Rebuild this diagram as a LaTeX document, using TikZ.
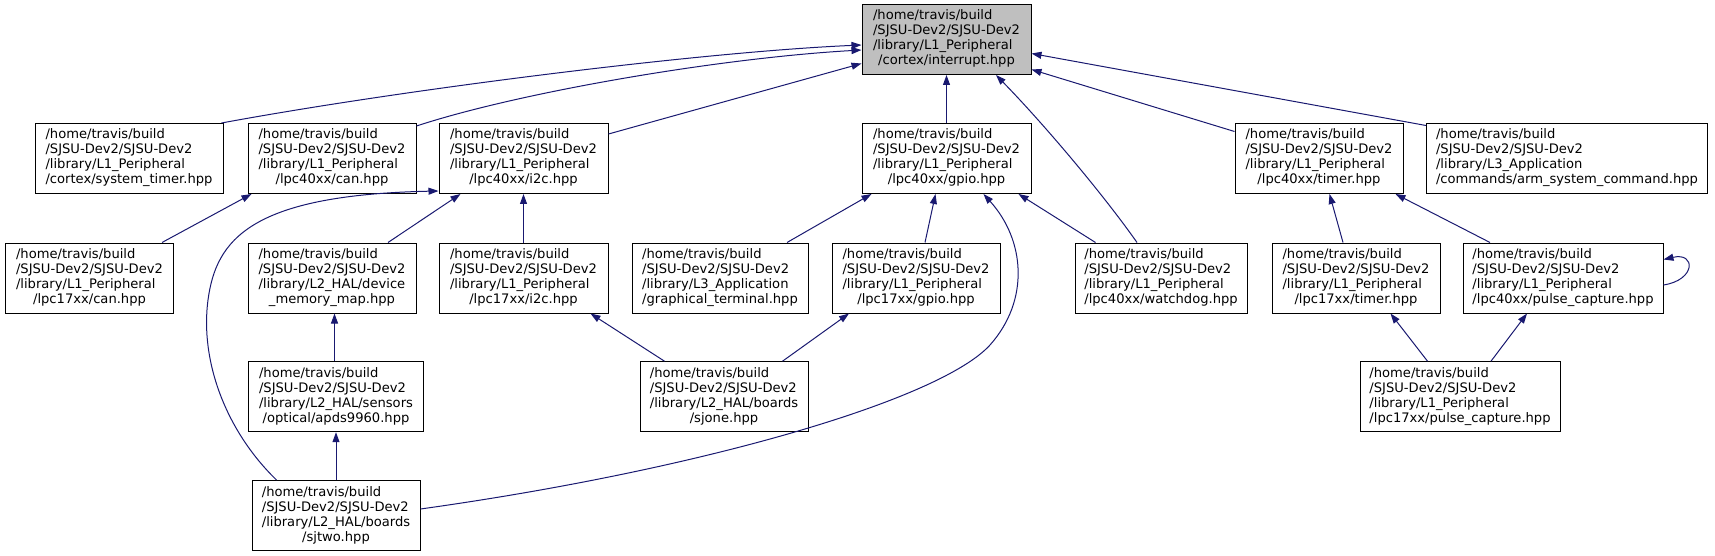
\documentclass[tikz,border=0pt]{standalone}
\usepackage{fontspec}
\setmainfont{DejaVu Sans}
\usetikzlibrary{arrows.meta,calc}
\definecolor{edgeblue}{HTML}{191970}
\definecolor{hilite}{HTML}{BFBFBF}
\newcommand{\lbl}[4]{\begin{tabular}{@{}l@{}}#1\\#2\\#3\\\multicolumn{1}{@{}c@{}}{#4}\end{tabular}}
\tikzset{
  filebox/.style={draw=black, line width=1pt, fill=white, inner sep=0pt,
    minimum height=70pt, font=\fontsize{13.1}{15}\selectfont},
  curbox/.style={filebox, fill=hilite},
  edge/.style={draw=edgeblue, line width=1pt, -{Triangle[length=10pt,width=7pt]}}
}
\begin{document}
\begin{tikzpicture}[x=1pt,y=-1pt]
\useasboundingbox (0,0) rectangle (1715,556);
% row 0
\node[curbox, minimum width=169pt] (intr) at (946.5,39.5) {\lbl{/home/travis/build}{/SJSU-Dev2/SJSU-Dev2}{/library/L1\_Peripheral}{/cortex/interrupt.hpp}};
% row 1
\node[filebox, minimum width=188pt] (sysT) at (129,158.5) {\lbl{/home/travis/build}{/SJSU-Dev2/SJSU-Dev2}{/library/L1\_Peripheral}{/cortex/system\_timer.hpp}};
\node[filebox, minimum width=168pt] (can40) at (332,158.5) {\lbl{/home/travis/build}{/SJSU-Dev2/SJSU-Dev2}{/library/L1\_Peripheral}{/lpc40xx/can.hpp}};
\node[filebox, minimum width=169pt] (i2c40) at (523.5,158.5) {\lbl{/home/travis/build}{/SJSU-Dev2/SJSU-Dev2}{/library/L1\_Peripheral}{/lpc40xx/i2c.hpp}};
\node[filebox, minimum width=169pt] (gpio40) at (946.5,158.5) {\lbl{/home/travis/build}{/SJSU-Dev2/SJSU-Dev2}{/library/L1\_Peripheral}{/lpc40xx/gpio.hpp}};
\node[filebox, minimum width=168pt] (tim40) at (1319,158.5) {\lbl{/home/travis/build}{/SJSU-Dev2/SJSU-Dev2}{/library/L1\_Peripheral}{/lpc40xx/timer.hpp}};
\node[filebox, minimum width=281pt] (arm) at (1567,158.5) {\lbl{/home/travis/build}{/SJSU-Dev2/SJSU-Dev2}{/library/L3\_Application}{/commands/arm\_system\_command.hpp}};
% row 2
\node[filebox, minimum width=168pt] (can17) at (89.5,278) {\lbl{/home/travis/build}{/SJSU-Dev2/SJSU-Dev2}{/library/L1\_Peripheral}{/lpc17xx/can.hpp}};
\node[filebox, minimum width=168pt] (devmem) at (332,278) {\lbl{/home/travis/build}{/SJSU-Dev2/SJSU-Dev2}{/library/L2\_HAL/device}{\_memory\_map.hpp}};
\node[filebox, minimum width=169pt] (i2c17) at (523.5,278) {\lbl{/home/travis/build}{/SJSU-Dev2/SJSU-Dev2}{/library/L1\_Peripheral}{/lpc17xx/i2c.hpp}};
\node[filebox, minimum width=176pt] (graph) at (720,278) {\lbl{/home/travis/build}{/SJSU-Dev2/SJSU-Dev2}{/library/L3\_Application}{/graphical\_terminal.hpp}};
\node[filebox, minimum width=168pt] (gpio17) at (916,278) {\lbl{/home/travis/build}{/SJSU-Dev2/SJSU-Dev2}{/library/L1\_Peripheral}{/lpc17xx/gpio.hpp}};
\node[filebox, minimum width=172pt] (wd) at (1161,278) {\lbl{/home/travis/build}{/SJSU-Dev2/SJSU-Dev2}{/library/L1\_Peripheral}{/lpc40xx/watchdog.hpp}};
\node[filebox, minimum width=168pt] (tim17) at (1356,278) {\lbl{/home/travis/build}{/SJSU-Dev2/SJSU-Dev2}{/library/L1\_Peripheral}{/lpc17xx/timer.hpp}};
\node[filebox, minimum width=200pt] (pulse40) at (1563,278) {\lbl{/home/travis/build}{/SJSU-Dev2/SJSU-Dev2}{/library/L1\_Peripheral}{/lpc40xx/pulse\_capture.hpp}};
% row 3
\node[filebox, minimum width=175pt] (apds) at (336,396.7) {\lbl{/home/travis/build}{/SJSU-Dev2/SJSU-Dev2}{/library/L2\_HAL/sensors}{/optical/apds9960.hpp}};
\node[filebox, minimum width=168pt] (sjone) at (724,396.7) {\lbl{/home/travis/build}{/SJSU-Dev2/SJSU-Dev2}{/library/L2\_HAL/boards}{/sjone.hpp}};
\node[filebox, minimum width=200pt] (pulse17) at (1460,396.7) {\lbl{/home/travis/build}{/SJSU-Dev2/SJSU-Dev2}{/library/L1\_Peripheral}{/lpc17xx/pulse\_capture.hpp}};
% row 4
\node[filebox, minimum width=168pt] (sjtwo) at (336,515.5) {\lbl{/home/travis/build}{/SJSU-Dev2/SJSU-Dev2}{/library/L2\_HAL/boards}{/sjtwo.hpp}};
% edges
\draw[edge] ($(sysT.north east)+(-2,0)$) .. controls (400,90) and (700,52) .. ($(intr.west)+(0,5.5)$);
\draw[edge] ($(can40.north east)+(0,3)$) .. controls (520,92) and (720,58) .. ($(intr.west)+(0,10.5)$);
\draw[edge] ($(i2c40.north east)+(0,11)$) -- ($(intr.west)+(0,24)$);
\draw[edge] (gpio40.north) -- (intr.south);
\draw[edge] ($(wd.north)+(-24,0)$) .. controls (1100,190) and (1040,120) .. ($(intr.south)+(49.5,0)$);
\draw[edge] ($(tim40.north west)+(0,8.5)$) -- ($(intr.east)+(0,30)$);
\draw[edge] ($(arm.north west)+(0,2.5)$) -- ($(intr.east)+(0,14)$);
\draw[edge] ($(graph.north)+(67,0)$) -- ($(gpio40.south west)+(10,0)$);
\draw[edge] ($(gpio17.north)+(9,0)$) -- ($(gpio40.south)+(-11,0)$);
\draw[edge] ($(sjtwo.east)+(0,-6.5)$) .. controls (700,470) and (940,400) .. (990,345) .. controls (1030,300) and (1025,240) .. ($(gpio40.south)+(37,0)$);
\draw[edge] ($(wd.north west)+(21,0)$) -- ($(gpio40.south)+(72,0)$);
\draw[edge] ($(can17.north)+(72.5,0)$) -- ($(can40.south west)+(4,0)$);
\draw[edge] ($(sjtwo.north west)+(25,0)$) .. controls (225,430) and (200,360) .. (208,300) .. controls (216,240) and (250,195) .. ($(i2c40.south west)+(0,-3)$);
\draw[edge] ($(devmem.north)+(56,0)$) -- ($(i2c40.south west)+(22,0)$);
\draw[edge] (i2c17.north) -- (i2c40.south);
\draw[edge] ($(apds.north)+(-1.5,0)$) -- ($(devmem.south)+(2.5,0)$);
\draw[edge] (sjtwo.north) -- (apds.south);
\draw[edge] ($(sjone.north west)+(25,0)$) -- ($(i2c17.south east)+(-18,0)$);
\draw[edge] ($(sjone.north east)+(-26,0)$) -- ($(gpio17.south west)+(17.5,0)$);
\draw[edge] ($(tim17.north)+(-13,0)$) -- ($(tim40.south)+(10.5,0)$);
\draw[edge] ($(pulse40.north west)+(27.5,0)$) -- ($(tim40.south east)+(-8,0)$);
\draw[edge] ($(pulse17.north west)+(68,0)$) -- ($(tim17.south east)+(-50,0)$);
\draw[edge] ($(pulse17.north)+(31,0)$) -- ($(pulse40.south)+(-36,0)$);
\draw[edge] ($(pulse40.east)+(0,7)$) .. controls (1696,280) and (1696,252) .. ($(pulse40.east)+(0,-18.5)$);
\end{tikzpicture}
\end{document}
